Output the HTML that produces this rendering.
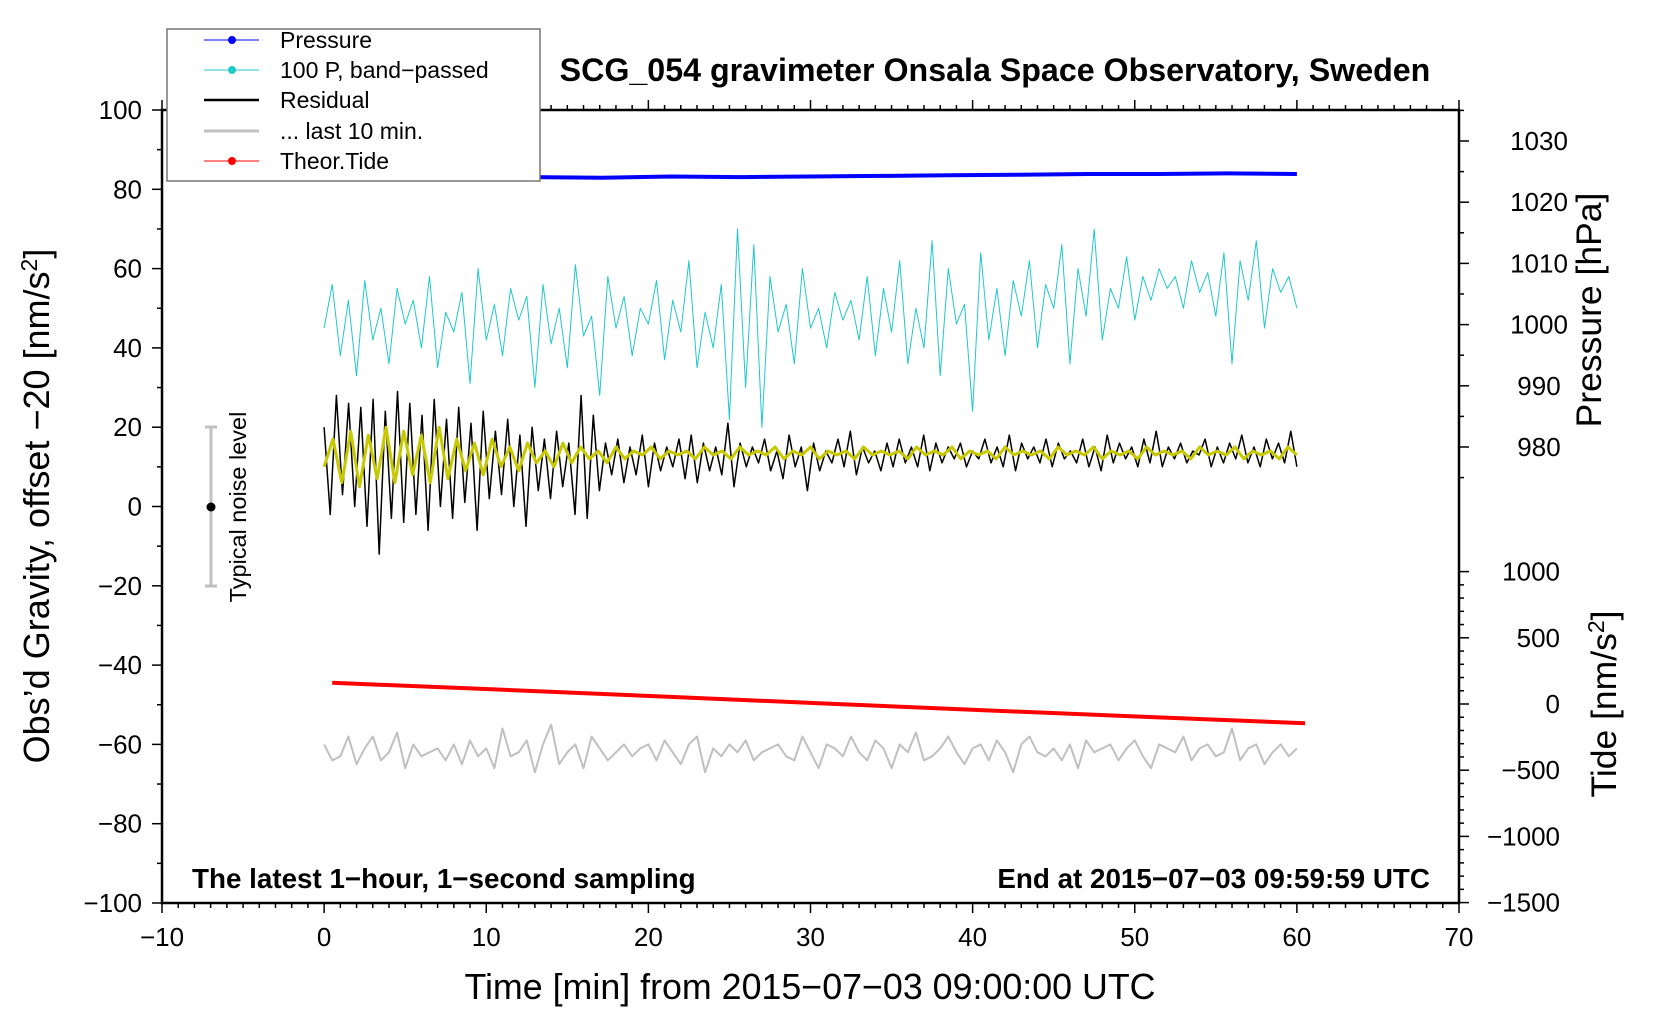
<!DOCTYPE html>
<html><head><meta charset="utf-8"><style>
body{margin:0;background:#fff}
svg{display:block;font-family:"Liberation Sans",Arial,sans-serif}
</style></head><body>
<svg id="chart" width="1660" height="1020" viewBox="0 0 1660 1020" xmlns="http://www.w3.org/2000/svg">
<g id="marks"></g>
<g id="axes"></g>
<text x="995" y="81" font-size="32.2" font-weight="bold" text-anchor="middle">SCG_054 gravimeter Onsala Space Observatory, Sweden</text>
<text x="192" y="888" font-size="27.8" font-weight="bold">The latest 1−hour, 1−second sampling</text>
<text x="1430" y="888" font-size="27.8" font-weight="bold" text-anchor="end">End at 2015−07−03 09:59:59 UTC</text>
<text x="810" y="999" font-size="35.8" text-anchor="middle">Time [min] from 2015−07−03 09:00:00 UTC</text>
<text transform="translate(49,506) rotate(-90)" font-size="36" text-anchor="middle">Obs’d Gravity, offset −20 [nm/s<tspan dy="-12" font-size="23">2</tspan><tspan dy="12">]</tspan></text>
<text transform="translate(1601,310) rotate(-90)" font-size="35.5" text-anchor="middle">Pressure [hPa]</text>
<text transform="translate(1616,704) rotate(-90)" font-size="35.5" text-anchor="middle">Tide [nm/s<tspan dy="-12" font-size="23">2</tspan><tspan dy="12">]</tspan></text>
<g>
<line x1="211" y1="427" x2="211" y2="586" stroke="#c0c0c0" stroke-width="3"/>
<line x1="205" y1="427" x2="217" y2="427" stroke="#c0c0c0" stroke-width="3"/>
<line x1="205" y1="586" x2="217" y2="586" stroke="#c0c0c0" stroke-width="3"/>
<circle cx="211" cy="507" r="4.5" fill="#000"/>
<text transform="translate(246,507) rotate(-90)" font-size="23.5" text-anchor="middle">Typical noise level</text>
</g>
<g>
<rect x="167" y="29" width="373" height="152" fill="#fff" stroke="#777" stroke-width="1.5"/>
<g><line x1="204" y1="40" x2="259" y2="40" stroke="#0000ff" stroke-width="1"/><circle cx="232" cy="40" r="4" fill="#0000ff"/><text x="280" y="48" font-size="23">Pressure</text></g>
<g><line x1="204" y1="70" x2="259" y2="70" stroke="#20c8c8" stroke-width="1"/><circle cx="232" cy="70" r="4" fill="#20c8c8"/><text x="280" y="78" font-size="23">100 P, band−passed</text></g>
<g><line x1="204" y1="100" x2="259" y2="100" stroke="#000" stroke-width="2.5"/><text x="280" y="108" font-size="23">Residual</text></g>
<g><line x1="204" y1="131" x2="259" y2="131" stroke="#c0c0c0" stroke-width="3"/><text x="280" y="139" font-size="23">... last 10 min.</text></g>
<g><line x1="204" y1="161" x2="259" y2="161" stroke="#ff0000" stroke-width="1"/><circle cx="232" cy="161" r="4" fill="#ff0000"/><text x="280" y="169" font-size="23">Theor.Tide</text></g>
</g>
</svg>
<script>
const xTicks=[-10,0,10,20,30,40,50,60,70];
const yTicks=[-100,-80,-60,-40,-20,0,20,40,60,80,100];
const pTicks=[980,990,1000,1010,1020,1030];
const tTicks=[-1500,-1000,-500,0,500,1000];
const pressure=[1024.3,1024.4,1024.2,1024.1,1024.0,1024.2,1024.1,1024.2,1024.3,1024.4,1024.5,1024.6,1024.6,1024.7,1024.6];
const bandpassed=[45,56,38,52,33,57,42,50,36,55,46,52,40,58,35,49,44,54,31,60,42,51,38,55,47,53,30,56,41,50,35,61,43,48,28,58,45,53,38,50,46,57,37,52,44,62,35,49,40,56,22,70,30,66,20,58,44,51,36,60,45,50,40,54,47,52,42,58,38,55,44,62,36,50,40,67,33,60,46,51,24,64,42,55,38,57,48,62,40,56,50,66,36,60,48,70,42,55,50,63,47,58,52,60,55,58,50,62,54,59,48,64,36,62,52,67,45,60,54,58,50];
const residual=[20,-2,28,3,26,0,25,-5,27,-12,24,-3,29,-4,26,-2,23,-6,27,0,22,-3,25,1,21,-6,24,2,19,3,22,0,18,-5,20,4,17,2,19,5,16,-2,28,-3,23,4,16,8,17,6,15,8,18,5,16,9,15,10,17,7,18,6,16,9,15,8,21,5,16,10,15,11,17,9,14,7,18,10,15,4,16,9,14,11,17,10,19,8,15,11,14,9,16,10,17,11,15,10,18,9,16,11,15,12,16,10,14,12,17,11,15,10,18,9,16,12,15,11,17,10,16,12,14,11,17,10,15,9,18,11,16,12,15,10,17,11,19,10,15,12,16,11,14,13,17,10,15,11,16,12,18,11,15,10,17,12,16,11,19,10];
const smoothed=[10,17,6,19,5,18,7,20,6,19,8,18,6,20,7,17,9,16,8,17,10,15,9,16,11,14,10,16,11,15,12,14,11,15,12,14,13,15,12,14,13,14,12,15,13,14,12,15,13,14,13,15,12,14,13,15,12,14,13,14,12,15,13,14,13,14,12,15,13,14,13,15,12,14,13,14,12,15,13,14,13,14,12,15,13,14,13,15,12,14,13,14,12,15,13,14,13,14,12,15,13,14,13,15,12,14,13,14,12,15,13];
const last10=[-60,-64,-63,-58,-65,-61,-58,-64,-62,-57,-66,-60,-63,-62,-61,-64,-60,-65,-59,-63,-61,-66,-56,-63,-62,-59,-67,-60,-55,-65,-62,-60,-66,-58,-61,-64,-62,-60,-63,-61,-60,-64,-59,-62,-65,-60,-58,-67,-61,-63,-60,-62,-59,-64,-62,-61,-60,-63,-64,-58,-62,-66,-60,-61,-63,-58,-62,-64,-59,-61,-66,-60,-62,-57,-64,-63,-61,-58,-62,-65,-61,-60,-64,-59,-62,-67,-60,-58,-62,-63,-61,-64,-60,-66,-59,-62,-61,-60,-64,-61,-59,-63,-66,-60,-61,-62,-58,-64,-61,-60,-63,-62,-56,-64,-61,-60,-65,-62,-60,-63,-61];
const tideTimes=[0.5,10.5,20.5,30.5,40.5,50.5,60.5];
const tideValues=[160,110,58,6,-46,-96,-146];

const X0=162,X1=1459,YT=110,YB=903;
const xs=t=>X0+(t+10)/80*(X1-X0);
const ys=v=>YB-(v+100)/200*(YB-YT);
const ps=p=>447-(p-980)*6.12;
const ts=v=>704-v*0.1324;
const NS='http://www.w3.org/2000/svg';
const marks=document.getElementById('marks'),axes=document.getElementById('axes');
function mk(tag,attrs,parent){const e=document.createElementNS(NS,tag);for(const k in attrs)e.setAttribute(k,attrs[k]);parent.appendChild(e);return e;}
function series(arr,sy,color,w,name,t0,t1){
  const pts=arr.map((v,i)=>xs(t0+i*(t1-t0)/(arr.length-1)).toFixed(1)+','+sy(v).toFixed(1)).join(' ');
  const el=mk('polyline',{points:pts,fill:'none',stroke:color,'stroke-width':w,'stroke-linejoin':'round'},marks);
  
  
}
series(last10,ys,'#c0c0c0',2,'last-10-min-line',0,60);
series(bandpassed,ys,'#20c8c8',1,'bandpassed-pressure-line',0,60);
series(residual,ys,'#000',1.5,'residual-line',0,60);
series(smoothed,ys,'#c8c800',3,'smoothed-residual-line',0,60);
series(pressure,ps,'#0000ff',4,'pressure-line',0,60);
{const pts=tideTimes.map((t,i)=>xs(t).toFixed(1)+','+ts(tideValues[i]).toFixed(1)).join(' ');
const el=mk('polyline',{points:pts,fill:'none',stroke:'#ff0000','stroke-width':4},marks);

}
const fr=mk('rect',{x:X0,y:YT,width:X1-X0,height:YB-YT,fill:'none',stroke:'#000','stroke-width':2.5},axes);


for(let t=-10;t<=70;t++){const x=xs(t),maj=t%10===0;
  mk('line',{x1:x,y1:YB,x2:x,y2:YB+(maj?10:5),stroke:'#000','stroke-width':1.5},axes);
  mk('line',{x1:x,y1:YT,x2:x,y2:YT-(maj?10:5),stroke:'#000','stroke-width':1.5},axes);}
xTicks.forEach(t=>{const el=mk('text',{x:xs(t),y:YB+43,'font-size':26,'text-anchor':'middle'},axes);el.textContent=String(t).replace('-','−');

});
for(let v=-100;v<=100;v+=10){const y=ys(v),maj=v%20===0;mk('line',{x1:X0,y1:y,x2:X0-(maj?10:5),y2:y,stroke:'#000','stroke-width':1.5},axes);}
yTicks.forEach(v=>{const el=mk('text',{x:X0-20,y:ys(v)+9,'font-size':26,'text-anchor':'end'},axes);el.textContent=String(v).replace('-','−');

});
for(let p=975;p<=1035;p+=5){const y=ps(p);if(y<YT||y>520)continue;const maj=p%10===0;mk('line',{x1:X1,y1:y,x2:X1+(maj?10:5),y2:y,stroke:'#000','stroke-width':1.5},axes);}
pTicks.forEach(p=>{const el=mk('text',{x:X1+80,y:ps(p)+9,'font-size':26,'text-anchor':'middle'},axes);el.textContent=p;

});
for(let v=-1500;v<=1000;v+=100){const y=ts(v),maj=v%500===0;mk('line',{x1:X1,y1:y,x2:X1+(maj?10:5),y2:y,stroke:'#000','stroke-width':1.5},axes);}
tTicks.forEach(v=>{const el=mk('text',{x:X1+101,y:ts(v)+9,'font-size':26,'text-anchor':'end'},axes);el.textContent=String(v).replace('-','−');

});
</script>
</body></html>
